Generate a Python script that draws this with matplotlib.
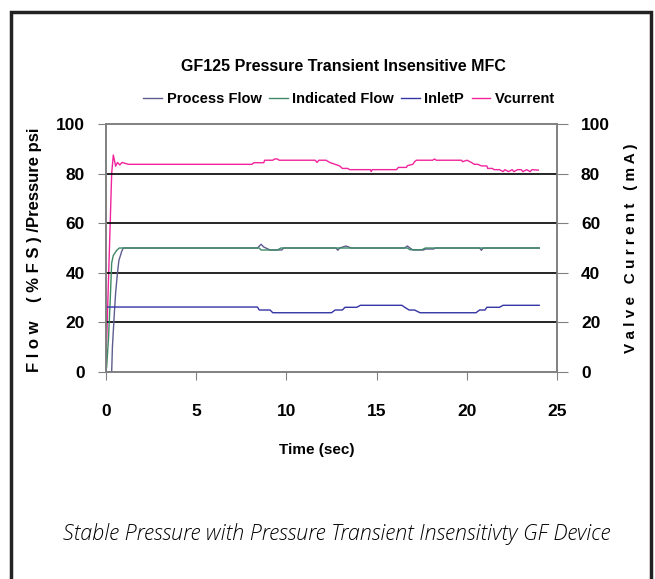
import matplotlib
matplotlib.use("Agg")
import matplotlib.pyplot as plt
from matplotlib import font_manager
from matplotlib.patches import Rectangle

# time (s) and values
process_t = [0, 0.33, 0.37, 0.48, 0.55, 0.65, 0.73, 0.88, 0.97, 8.4, 8.6, 8.75, 9.1,
             9.75, 9.85, 12.75, 12.85, 12.95, 13.3, 13.6, 16.55, 16.7, 16.85, 17.0,
             17.6, 17.7, 18.15, 18.25, 20.7, 20.8, 20.9, 24.0]
process_v = [0, 0, 10, 24, 32, 40, 45, 48.5, 50, 50, 51.5, 50.4, 49.2,
             49.2, 50, 50, 49.1, 50, 50.8, 50, 50, 50.8, 50, 49.2,
             49.2, 49.6, 49.6, 50, 50, 49.1, 50, 50]

indicated_t = [0, 0.05, 0.15, 0.25, 0.33, 0.42, 0.6, 0.75, 8.5, 8.6, 9.5, 9.7,
               16.7, 16.85, 17.5, 17.7, 24.0]
indicated_v = [0, 2, 13, 29, 44, 47, 49, 50, 50, 49.2, 49.2, 50,
               50, 49.3, 49.3, 50, 50]

inlet_t = [0, 8.4, 8.5, 9.1, 9.25, 12.5, 12.7, 13.1, 13.25, 13.9, 14.1, 16.4, 16.55,
           16.8, 17.1, 17.4, 20.5, 20.7, 21.0, 21.1, 21.8, 22.0, 24.0]
inlet_v = [26.2, 26.2, 25.0, 25.0, 23.9, 23.9, 25.0, 25.0, 26.1, 26.1, 26.9, 26.9, 26.1,
           25.0, 25.0, 23.9, 23.9, 25.0, 25.0, 26.1, 26.1, 26.9, 26.9]

vcur_t = [0, 0.33, 0.42, 0.55, 0.65, 0.78, 0.9, 1.05, 1.25, 8.1, 8.2, 8.75, 8.8, 9.25,
          9.35, 9.5, 9.6, 11.6, 11.7, 11.8, 12.2, 12.4, 12.7, 12.95, 13.1, 13.4, 13.5,
          14.65, 14.7, 14.75, 16.1, 16.2, 16.65, 16.7, 17.0, 17.1, 17.2, 18.1, 18.2, 18.3,
          19.7, 19.75, 20.0, 20.25, 20.4, 20.6, 20.8, 21.1, 21.15, 21.4, 21.5, 21.8,
          22.0, 22.1, 22.3, 22.5, 22.6, 22.8, 23.0, 23.1, 23.3, 23.5, 23.6, 23.95]
vcur_v = [0, 80, 87.5, 83, 84.5, 83.5, 84.5, 84.2, 83.75, 83.75, 84.4, 84.4, 85.4, 85.4,
          85.9, 85.9, 85.4, 85.4, 84.5, 85.4, 85.4, 84.5, 83.75, 83.1, 82.1, 82.1, 81.6,
          81.6, 80.8, 81.6, 81.6, 82.5, 82.5, 83.2, 83.75, 84.8, 85.4, 85.4, 85.9, 85.4,
          85.4, 84.8, 85.4, 84.5, 83.75, 83.75, 83.1, 83.1, 82.1, 82.1, 81.6, 81.6,
          80.8, 81.6, 80.8, 81.6, 80.8, 81.6, 81.6, 80.8, 81.6, 80.8, 81.6, 81.4]

series_names = ["Process Flow", "Indicated Flow", "InletP", "Vcurrent"]
series_colors = ["#5c5c8e", "#3e8a66", "#3434a4", "#f2249c"]
x_ticks = [0, 5, 10, 15, 20, 25]
y_ticks = [0, 20, 40, 60, 80, 100]


def pick_font(names):
    installed = {f.name for f in font_manager.fontManager.ttflist}
    for n in names:
        if n in installed:
            return n
    return "DejaVu Sans"


narrow = pick_font(["Liberation Sans Narrow", "Liberation Sans"])
plain = pick_font(["Liberation Sans"])
caption_font = pick_font(["Open Sans", "Lato", "Liberation Sans"])

fig = plt.figure(figsize=(6.55, 5.79), dpi=100)
ax = fig.add_axes([0.1614, 0.3575, 0.6894, 0.4283])

ax.plot(process_t, process_v, color=series_colors[0], lw=1.0, label=series_names[0])
ax.plot(indicated_t, indicated_v, color=series_colors[1], lw=1.0, label=series_names[1])
ax.plot(inlet_t, inlet_v, color=series_colors[2], lw=1.0, label=series_names[2])

ax2 = ax.twinx()
ax2.plot(vcur_t, vcur_v, color=series_colors[3], lw=1.0, label=series_names[3])

for a in (ax, ax2):
    a.set_ylim(0, 100)
    a.set_yticks(y_ticks)
    for s in a.spines.values():
        s.set_color("#808080")
        s.set_linewidth(1.2)
ax.set_xlim(0, 25)
ax.set_xticks(x_ticks)
ax.set_zorder(ax2.get_zorder() + 1)
ax.patch.set_visible(False)

for y in y_ticks[1:-1]:
    ax.axhline(y, color="black", lw=1.2, zorder=0)

ax.tick_params(axis="x", direction="out", length=6, color="#808080", pad=17,
               labelsize=12.5)
ax.tick_params(axis="y", direction="out", length=6, color="#808080", pad=9,
               labelsize=12.5)
ax2.tick_params(axis="y", direction="out", length=8, color="#808080", pad=9,
                labelsize=12.5)
for lab in ax.get_xticklabels() + ax.get_yticklabels() + ax2.get_yticklabels():
    lab.set_fontweight("bold")
    lab.set_fontfamily(plain)

fig.text(0.525, 0.886, "GF125 Pressure Transient Insensitive MFC", ha="center",
         va="center", fontsize=11.5, fontweight="bold", family=narrow)

handles = ax.get_lines()[:3] + ax2.get_lines()
leg = fig.legend(handles, series_names, loc="center", bbox_to_anchor=(0.533, 0.829),
                 ncol=4, frameon=False, handlelength=1.3, handletextpad=0.3,
                 columnspacing=0.5, prop={"family": narrow, "weight": "bold", "size": 10.5})

fig.text(0.484, 0.222, "Time (sec)", ha="center", va="center", fontsize=11,
         fontweight="bold", family=narrow)
fig.text(0.053, 0.568, "F l o w    ( % F S ) /Pressure psi", rotation=90, ha="center",
         va="center", fontsize=12, fontweight="bold", family=plain)
fig.text(0.963, 0.571, "V a l v e   C u r r e n t   ( m A )", rotation=90, ha="center",
         va="center", fontsize=11, fontweight="bold", family=plain)

fig.text(0.514, 0.078, "Stable Pressure with Pressure Transient Insensitivty GF Device",
         ha="center", va="center", fontsize=15.5, style="italic", fontweight="light",
         family=caption_font)

# outer frame, open at the bottom edge of the image
fig.add_artist(Rectangle((11 / 655, -0.05), 640 / 655, 1.05 - 12 / 579,
                         transform=fig.transFigure, fill=False, lw=2.5, ec="#222222"))

fig.savefig("out.png", dpi=100)
